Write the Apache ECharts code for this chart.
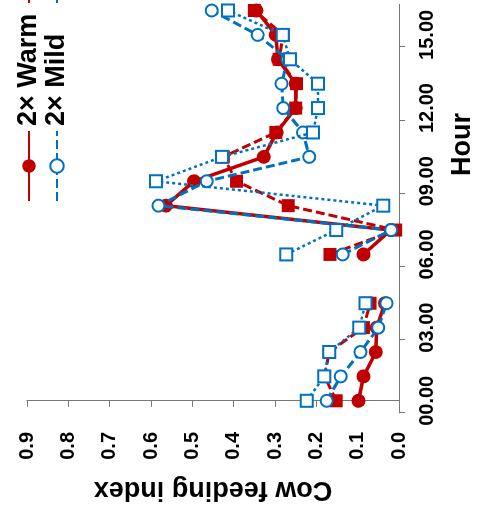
<!DOCTYPE html>
<html>
<head>
<meta charset="utf-8">
<script src="https://cdn.jsdelivr.net/npm/echarts@6/dist/echarts.min.js"></script>
<style>
  html, body { margin: 0; padding: 0; background: #fff; overflow: hidden; }
  #wrap { width: 481px; height: 511px; position: relative; overflow: hidden; }
  /* chart is drawn upright (511x481) then turned a quarter turn left */
  #chart { width: 511px; height: 481px; position: absolute; left: 0; top: 0;
           transform-origin: 0 0; transform: translate(0, 511px) rotate(-90deg); }
</style>
</head>
<body>
<div id="wrap"><div id="chart"></div></div>
<script>
'use strict';
// hour index (no sample at 5)
var hours = [0, 1, 2, 3, 4, 5, 6, 7, 8, 9, 10, 11, 12, 13, 14, 15, 16];
var warm = [0.098, 0.086, 0.056, 0.054, 0.034, null, 0.086, 0.020, 0.564, 0.496, 0.327, 0.296, 0.250, 0.250, 0.293, 0.298, 0.345];
var mild = [0.175, 0.141, 0.093, 0.050, 0.030, null, 0.136, 0.019, 0.582, 0.465, 0.217, 0.232, 0.280, 0.284, 0.270, 0.342, 0.453];
var warmSq = [0.152, 0.180, 0.169, 0.086, 0.070, null, 0.167, 0.008, 0.268, 0.393, 0.425, 0.298, 0.250, 0.248, 0.290, 0.280, 0.350];
var mildSq = [0.223, 0.181, 0.169, 0.096, 0.081, null, 0.273, 0.152, 0.038, 0.588, 0.428, 0.208, 0.196, 0.196, 0.264, 0.281, 0.414];
var hourTicks = [-0.5, 2.5, 5.5, 8.5, 11.5, 14.5];
var hourLabelAt = [0, 3, 6, 9, 12, 15];
var hourLabels = ['00.00', '03.00', '06.00', '09.00', '12.00', '15.00'];

var RED = '#c00000', BLUE = '#0070c0';
var FONT = 'Liberation Sans';

function pairs(vals) {
  var out = [];
  for (var i = 0; i < hours.length; i++) {
    out.push([hours[i], vals[i] === null ? null : vals[i]]);
  }
  return out;
}

var chart = echarts.init(document.getElementById('chart'), null, { renderer: 'canvas' });

var legendText = { fontSize: 27, fontWeight: 'bold', fontFamily: FONT, color: '#000', lineHeight: 28 };

chart.setOption({
  animation: false,
  backgroundColor: '#fff',
  grid: { left: 90, right: 4.4, top: 27, bottom: 82, containLabel: false },
  legend: [{
    data: ['2× Warm', '2× Mild'], orient: 'vertical', left: 304, top: 10,
    itemWidth: 70, itemHeight: 17, itemGap: 0, textStyle: legendText
  }, {
    data: ['4× Warm', '4× Mild'], orient: 'vertical', left: 502, top: 10,
    itemWidth: 70, itemHeight: 17, itemGap: 0, textStyle: legendText
  }],
  xAxis: {
    type: 'value', min: -0.5, max: 16.25,
    axisLine: { onZero: false, lineStyle: { color: '#777', width: 1 } },
    axisTick: { customValues: hourTicks, length: 6, lineStyle: { color: '#777' } },
    axisLabel: {
      customValues: hourLabelAt, margin: 18,
      fontSize: 20, fontWeight: 'bold', fontFamily: FONT, color: '#000',
      formatter: function (v) {
        var k = hourLabelAt.indexOf(v);
        return k >= 0 ? hourLabels[k] : '';
      }
    },
    splitLine: { show: false }
  },
  yAxis: {
    type: 'value', min: 0, max: 0.9, interval: 0.1,
    name: 'Cow feeding index', nameLocation: 'middle', nameGap: 63,
    nameTextStyle: { fontSize: 27, fontWeight: 'bold', fontFamily: FONT, color: '#000' },
    axisLine: { show: true, lineStyle: { color: '#777', width: 1 } },
    axisTick: { show: true, length: 6, lineStyle: { color: '#777' } },
    axisLabel: {
      margin: 19, fontSize: 20, fontWeight: 'bold', fontFamily: FONT, color: '#000',
      formatter: function (v) { return v.toFixed(1); }
    },
    splitLine: { show: false }
  },
  graphic: [{
    type: 'text', left: 368 - 33, top: 449,
    style: { text: 'Hour', fontSize: 27, fontWeight: 'bold', fontFamily: FONT, fill: '#000' }
  }],
  series: [{
    name: '2× Warm', type: 'line', data: pairs(warm), connectNulls: false, z: 2,
    symbol: 'circle', symbolSize: 14,
    lineStyle: { color: RED, width: 3.5, type: 'solid' },
    itemStyle: { color: RED }
  }, {
    name: '2× Mild', type: 'line', data: pairs(mild), connectNulls: false, z: 4,
    symbol: 'emptyCircle', symbolSize: 12,
    lineStyle: { color: BLUE, width: 3, type: [9, 4] },
    itemStyle: { color: BLUE, borderColor: BLUE, borderWidth: 3 }
  }, {
    name: '4× Warm', type: 'line', data: pairs(warmSq), connectNulls: false, z: 3,
    symbol: 'rect', symbolSize: 13,
    lineStyle: { color: RED, width: 3, type: [9, 4] },
    itemStyle: { color: RED }
  }, {
    name: '4× Mild', type: 'line', data: pairs(mildSq), connectNulls: false, z: 5,
    symbol: 'emptyRect', symbolSize: 12,
    lineStyle: { color: BLUE, width: 2.5, type: [3, 3] },
    itemStyle: { color: BLUE, borderColor: BLUE, borderWidth: 2.5 }
  }]
});
</script>
</body>
</html>
